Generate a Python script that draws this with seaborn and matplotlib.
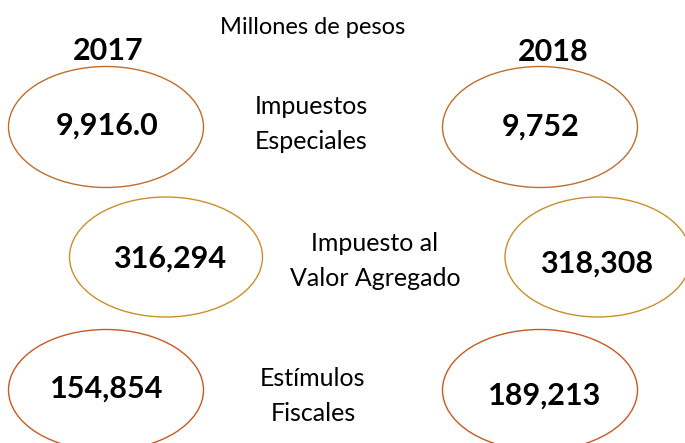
import matplotlib.pyplot as plt
import seaborn as sns
from matplotlib.patches import Ellipse

# Data
years = ['2017', '2018']
categories = ['Impuestos\nEspeciales', 'Impuesto al\nValor Agregado', 'Estímulos\nFiscales']
vals_2017 = ['9,916.0', '316,294', '154,854']
vals_2018 = ['9,752', '318,308', '189,213']
unit = 'Millones de pesos'

sns.set_style('white')
plt.rcParams['font.family'] = ['Lato', 'DejaVu Sans']
plt.rcParams['text.color'] = 'black'

fig = plt.figure(figsize=(6.85, 4.43), dpi=100)
ax = fig.add_axes([0, 0, 1, 1])
ax.set_xlim(0, 685)
ax.set_ylim(443, 0)
ax.axis('off')

# layout (pixel coords)
left_ell = [(106, 127), (166, 257), (106, 390)]
right_ell = [(540, 127), (598, 257), (540, 390)]
ell_size = [(195, 121), (193, 120), (195, 121)]
right_size = [(195, 121), (186, 120), (195, 121)]
left_txt = [(107, 126), (170, 259), (107, 389)]
right_txt = [(541, 127), (597, 264), (545, 396)]
label_pos = [(311, 124), (375, 261), (313, 396)]
edge_colors = ['#BF6E2C', '#C8902A', '#C55A22']

for i in range(3):
    for (cx, cy), (w, h) in [(left_ell[i], ell_size[i]), (right_ell[i], right_size[i])]:
        ax.add_patch(Ellipse((cx, cy), w, h, fill=False,
                             edgecolor=edge_colors[i], linewidth=1.0))
    ax.text(*left_txt[i], vals_2017[i], ha='center', va='center',
            fontsize=22, fontweight='bold', color='black')
    ax.text(*right_txt[i], vals_2018[i], ha='center', va='center',
            fontsize=22, fontweight='bold', color='black')
    ax.text(*label_pos[i], categories[i], ha='center', va='center',
            fontsize=18, color='black', linespacing=1.6)

ax.text(108, 51, years[0], ha='center', va='center', fontsize=22, fontweight='bold')
ax.text(553, 52, years[1], ha='center', va='center', fontsize=22, fontweight='bold')
ax.text(313, 27, unit, ha='center', va='center', fontsize=17)

fig.savefig('out.png', dpi=100)
